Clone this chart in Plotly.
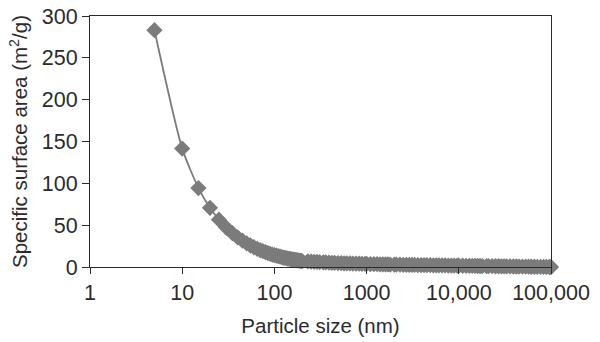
import plotly.graph_objects as go

# Particle diameter (nm) and the corresponding specific surface area (m^2/g)
particle_size_nm = [
    5, 10, 15, 20, 25, 30, 35, 40, 45, 50, 55, 60, 65, 70, 75, 80, 85, 90, 95, 100,
    105, 110, 115, 120, 125, 130, 135, 140, 145, 150, 155, 160, 165, 170, 175, 180,
    185, 190, 195, 200,
    230, 250, 270, 290, 310, 340, 360, 390, 420, 450, 490, 530, 570, 610, 660, 710, 770,
    830, 890, 960, 1000,
    1100, 1200, 1300, 1400, 1500, 1600, 1700, 1800, 2000, 2100, 2300, 2500, 2700,
    2900, 3100, 3300, 3600, 3900, 4200, 4500, 4900, 5300, 5700, 6100, 6600, 7100,
    7700, 8300, 8900, 9600, 10000,
    11000, 12000, 13000, 14000, 15000, 16000, 17000, 18000, 20000, 21000, 23000,
    25000, 27000, 29000, 31000, 33000, 36000, 39000, 42000, 45000, 49000, 53000,
    57000, 61000, 66000, 71000, 77000, 83000, 89000, 96000, 100000,
]
surface_area_m2g = [
    283.0, 141.5, 94.3, 70.8, 56.6, 47.2, 40.4, 35.4, 31.4, 28.3, 25.7, 23.6, 21.8,
    20.2, 18.9, 17.7, 16.6, 15.7, 14.9, 14.2, 13.5, 12.9, 12.3, 11.8, 11.3, 10.9,
    10.5, 10.1, 9.8, 9.4, 9.1, 8.8, 8.6, 8.3, 8.1, 7.9, 7.6, 7.4, 7.3, 7.1,
    6.7, 6.4, 6.2, 6.0, 5.8, 5.6, 5.4, 5.2, 5.0, 4.9, 4.7, 4.6, 4.4, 4.3, 4.2, 4.1, 4.0,
    3.9, 3.8, 3.7, 3.6,
    3.5, 3.4, 3.3, 3.2, 3.1, 3.0, 3.0, 2.9, 2.8, 2.8, 2.7, 2.6, 2.6, 2.5, 2.4, 2.4,
    2.3, 2.2, 2.2, 2.1, 2.1, 2.0, 2.0, 1.9, 1.8, 1.8, 1.7, 1.7, 1.6, 1.6, 1.5,
    1.5, 1.4, 1.4, 1.3, 1.3, 1.2, 1.2, 1.1, 1.1, 1.0, 1.0, 0.9, 0.9, 0.8, 0.8, 0.7,
    0.7, 0.6, 0.6, 0.5, 0.5, 0.4, 0.4, 0.3, 0.3, 0.2, 0.2, 0.1, 0.1, 0.0, 0.0,
]

x_tick_values = [1, 10, 100, 1000, 10000, 100000]
x_tick_labels = ["1", "10", "100", "1000", "10,000", "100,000"]
y_tick_values = [0, 50, 100, 150, 200, 250, 300]

gray = "#7b7b7b"
ink = "#2b2b2b"
font_family = "Liberation Sans, Arial, Helvetica, sans-serif"

fig = go.Figure(
    go.Scatter(
        x=particle_size_nm,
        y=surface_area_m2g,
        mode="lines+markers",
        line=dict(color=gray, width=1.8, shape="spline", smoothing=0.6),
        marker=dict(symbol="diamond", size=12.5, color=gray, line=dict(width=0)),
        cliponaxis=False,
        showlegend=False,
    )
)

fig.update_layout(
    width=600,
    height=342,
    margin=dict(l=90, r=49, t=16, b=75),
    paper_bgcolor="white",
    plot_bgcolor="white",
    font=dict(family=font_family, size=21, color=ink),
)

fig.update_xaxes(
    type="log",
    range=[0, 5],
    tickvals=x_tick_values,
    ticktext=x_tick_labels,
    ticks="outside",
    ticklen=6,
    tickwidth=1,
    tickcolor=ink,
    showline=True,
    linecolor=ink,
    linewidth=1,
    mirror=True,
    showgrid=False,
    zeroline=False,
    automargin=False,
    tickfont=dict(size=21.5),
    title=dict(text="Particle size (nm)", font=dict(size=20.5), standoff=14),
)

fig.update_yaxes(
    range=[0, 300],
    tickvals=y_tick_values,
    ticks="outside",
    ticklen=7,
    tickwidth=1,
    tickcolor=ink,
    showline=True,
    linecolor=ink,
    linewidth=1,
    mirror=True,
    showgrid=False,
    zeroline=False,
    automargin=False,
    tickfont=dict(size=21.5),
    title=dict(text="Specific surface area (m<sup>2</sup>/g)", font=dict(size=20.5), standoff=8),
)

fig.write_html("out.html")
